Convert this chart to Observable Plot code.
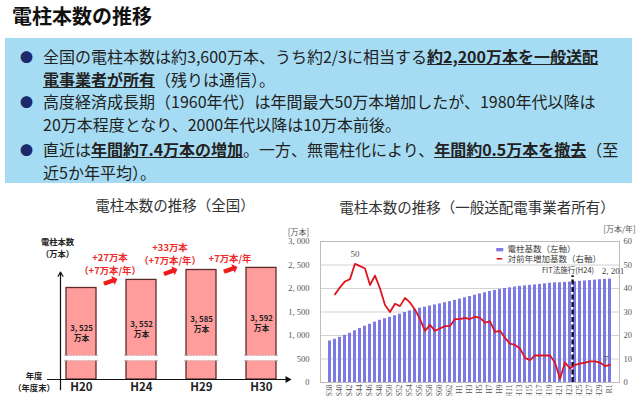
<!DOCTYPE html>
<html><head><meta charset="utf-8">
<script src="https://cdn.jsdelivr.net/npm/d3@7"></script>
<script src="https://cdn.jsdelivr.net/npm/@observablehq/plot@0.6"></script>
<style>
body{margin:0;background:#fff;font-family:"Noto Sans CJK JP",sans-serif;color:#222;}
#wrap{position:relative;width:640px;height:396px;overflow:hidden;background:#fff;}
.abs{position:absolute;}
#title{left:12px;top:3px;font-size:20px;font-weight:bold;color:#111;line-height:26px;}
#box{left:5px;top:38px;width:627px;height:145px;background:#a6dcf3;}
.item{position:absolute;left:43px;font-size:16px;line-height:23px;white-space:nowrap;color:#222;}
.dot{position:absolute;left:-23px;top:0;font-size:13px;color:#1b2a6e;}
.item b{text-decoration:underline;}
#t1{left:75px;top:196px;width:200px;text-align:center;font-size:14.5px;line-height:18px;color:#333;}
#t2{left:317px;top:198px;width:320px;text-align:center;font-size:14.5px;line-height:18px;color:#333;}
#c1{left:0;top:190px;}
#c2{left:280px;top:190px;}
</style></head>
<body>
<div id="wrap">
  <div id="title" class="abs">電柱本数の推移</div>
  <div id="box" class="abs"></div>
  <div class="item" style="top:45px"><span class="dot">●</span>全国の電柱本数は約3,600万本、うち約2/3に相当する<b>約2,200万本を一般送配<br>電事業者が所有</b>（残りは通信）。</div>
  <div class="item" style="top:90px"><span class="dot">●</span>高度経済成長期（1960年代）は年間最大50万本増加したが、1980年代以降は<br>20万本程度となり、2000年代以降は10万本前後。</div>
  <div class="item" style="top:138px"><span class="dot">●</span>直近は<b>年間約7.4万本の増加</b>。一方、無電柱化により、<b>年間約0.5万本を撤去</b>（至<br>近5か年平均）。</div>
  <div id="t1" class="abs">電柱本数の推移（全国）</div>
  <div id="t2" class="abs">電柱本数の推移（一般送配電事業者所有）</div>
  <div id="c1" class="abs"></div>
  <div id="c2" class="abs"></div>
</div>
<script>
// ---- Left chart: national totals ----
const natYears = ["H20", "H24", "H29", "H30"];
const natPoles = [3525, 3552, 3585, 3592];
const gainTo = ["H24", "H29", "H30"];
const gainText = ["+27万本\n（+7万本/年）", "+33万本\n（+7万本/年）", "+7万本/年"];

// ---- Right chart: utility-owned poles ----
const years = ["S38","S39","S40","S41","S42","S43","S44","S45","S46","S47","S48","S49","S50","S51","S52","S53","S54","S55","S56","S57","S58","S59","S60","S61","S62","S63",
  "H1","H2","H3","H4","H5","H6","H7","H8","H9","H10","H11","H12","H13","H14","H15","H16","H17","H18","H19","H20","H21","H22","H23","H24","H25","H26","H27","H28","H29","H30","R1"];
const poles = [883,920,961,1004,1048,1099,1148,1197,1238,1284,1324,1357,1387,1420,1453,1489,1523,1554,1581,1603,1628,1650,1673,1697,1721,1748,
  1775,1802,1829,1857,1885,1910,1936,1958,1980,1999,2015,2031,2046,2056,2066,2077,2089,2100,2112,2120,2122,2130,2136,2144,2152,2160,2169,2178,2187,2194,2201];
const increase = [null,37.5,40.5,43,44,50.5,49.5,48.5,41.5,45.5,40,33,30,33.5,32.5,36,34,31,27,22,24.5,22,23,24,24,27,
  27,27.5,27,28,27.5,25.5,26,21.5,22,19,16.5,16,14.5,10.5,9.5,11.5,11.5,11.5,11.5,8.5,1.5,8.5,6,7.5,8,8.5,9,9,8.5,7,7.5];
const tickYears = ["S38","S40","S42","S44","S46","S48","S50","S52","S54","S56","S58","S60","S62",
  "H1","H3","H5","H7","H9","H11","H13","H15","H17","H19","H21","H23","H25","H27","H29","R1"];
const leftTicks = [0,500,1000,1500,2000,2500,3000];

const fmtJ = v => d3.format(",")(v).replace(",", ", ");
const font = "'Noto Sans CJK JP', sans-serif";
const serif = "'Liberation Serif', 'Noto Sans CJK JP', serif";
const mid = {textAnchor: "middle", lineAnchor: "middle"};

const nat = natYears.map((year, i) => ({year, value: natPoles[i]}));
const gains = gainTo.map((year, i) => ({year, value: natPoles[natYears.indexOf(year)], text: gainText[i]}));
const breakAt = 3292;

const left = Plot.plot({
  width: 290, height: 206,
  marginLeft: 47, marginRight: 3, marginTop: 0, marginBottom: 17,
  style: {background: "transparent", fontFamily: font, overflow: "visible"},
  x: {type: "band", domain: natYears, range: [64, 277], paddingInner: 0.508, paddingOuter: 0},
  y: {domain: [3220, 3600], range: [189, 75]},
  marks: [
    Plot.barY(nat, {x: "year", y1: 3220, y2: "value", fill: "#ff9d9d", stroke: "#5e2b2b", strokeWidth: 1.3}),
    Plot.tickY(nat, {x: "year", y: breakAt, stroke: "white", strokeWidth: 5, insetLeft: -2, insetRight: -2}),
    Plot.tickY(nat, {x: "year", y: breakAt, dy: -2.5, stroke: "#aaa", strokeWidth: 0.8, strokeDasharray: "1.5,1.5", insetLeft: -2, insetRight: -2}),
    Plot.tickY(nat, {x: "year", y: breakAt, dy: 2.5, stroke: "#aaa", strokeWidth: 0.8, strokeDasharray: "1.5,1.5", insetLeft: -2, insetRight: -2}),
    Plot.text(nat, {x: "year", y: d => (d.value + breakAt) / 2, dy: 9.5, text: d => fmtJ(d.value) + "\n万本",
      fontSize: 7.8, fontWeight: "bold", fill: "#222", lineHeight: 1.32}),
    Plot.ruleY([3220], {stroke: "#111", strokeWidth: 1.2}),
    Plot.dot([3220], {y: d => d, frameAnchor: "right", symbol: "triangle", rotate: 90, r: 2.6, fill: "#111", stroke: null}),
    Plot.arrow([natYears[0]], {x1: d => d, x2: d => d, y1: 3186, y2: 3578, dx: -21, stroke: "#111", strokeWidth: 1.2, headLength: 6}),
    Plot.text(gains, {x: "year", y: "value", text: "text", dx: -31.5, dy: -6, lineAnchor: "bottom",
      fontSize: 9.4, fontWeight: "bold", fill: "#ee2a2a", lineHeight: 1.42}),
    Plot.text(gains, {x: "year", y: "value", text: () => "➡", dx: -31, dy: 1.5, rotate: -20,
      fontSize: 19, fill: "#ee1c1c", fontFamily: "'DejaVu Sans'"}),
    Plot.text(["電柱本数\n（万本）"], {frameAnchor: "top-left", ...mid, dx: 10, dy: 56.5, text: d => d,
      fontSize: 8.3, fontWeight: "bold", fill: "#222", lineHeight: 1.4}),
    Plot.text(["年度\n（年度末）"], {frameAnchor: "top-left", ...mid, dx: -13.5, dy: 191, text: d => d,
      fontSize: 8.3, fontWeight: "bold", fill: "#222", lineHeight: 1.45}),
    Plot.axisX({tickSize: 0, tickPadding: 3, fontSize: 11.5, fontWeight: "bold", fill: "#222", label: null}),
    Plot.axisY({ticks: [], label: null})
  ]
});
document.getElementById("c1").append(left);

const rows = years.map((year, i) => ({year, poles: poles[i], inc: increase[i]}));

const right = Plot.plot({
  width: 360, height: 206,
  marginLeft: 40, marginRight: 21, marginTop: 51, marginBottom: 14,
  style: {background: "transparent", fontFamily: font, overflow: "visible"},
  x: {type: "band", domain: years, paddingInner: 0.45, paddingOuter: 0.5},
  y: {domain: [0, 3000]},
  marks: [
    Plot.ruleY(leftTicks, {stroke: "#d2d2d2", strokeWidth: 1}),
    Plot.frame({stroke: "#bdbdbd"}),
    Plot.barY(rows, {x: "year", y: "poles", fill: "#7b7be3"}),
    Plot.ruleX(["H23"], {x: d => d, dx: 2.6, y1: 0, y2: 2270, stroke: "#111", strokeWidth: 2.4, strokeDasharray: "5,2.5"}),
    Plot.line(rows, {x: "year", y: d => d.inc == null ? NaN : d.inc * 50, stroke: "#e0141e", strokeWidth: 1.8}),
    Plot.text([{year: "S43", v: 50.5}], {x: "year", y: d => d.v * 50, text: () => "50", dy: -10, fontSize: 9, fill: "#555", fontFamily: serif}),
    Plot.text([{year: "R1", v: 2201}], {x: "year", y: "v", text: d => fmtJ(d.v), dx: 3, dy: -8, fontSize: 9, fill: "#444", fontFamily: serif}),
    Plot.text([{year: "R1", v: 7.5}], {x: "year", y: d => d.v * 50, text: () => "7", dx: -4, dy: -6, fontSize: 9, fill: "#555", fontFamily: serif}),
    Plot.text(["H23"], {x: d => d, y: 2300, text: () => "FIT法施行(H24)", dx: -2, dy: -4, fontSize: 7.5, fill: "#333"}),
    Plot.text(["▬"], {frameAnchor: "top-left", ...mid, dx: 179, dy: 7.5, text: d => d, fill: "#7b7be3", fontSize: 9, fontFamily: "'DejaVu Sans'"}),
    Plot.text(["電柱基数（左軸）"], {frameAnchor: "top-left", lineAnchor: "middle", dx: 187, dy: 7.5, text: d => d, textAnchor: "start", fontSize: 8.5, fill: "#444"}),
    Plot.text(["━"], {frameAnchor: "top-left", ...mid, dx: 179, dy: 18, text: d => d, fill: "#e0141e", fontSize: 9, fontFamily: "'DejaVu Sans'"}),
    Plot.text(["対前年増加基数（右軸）"], {frameAnchor: "top-left", lineAnchor: "middle", dx: 187, dy: 18, text: d => d, textAnchor: "start", fontSize: 8.5, fill: "#444"}),
    Plot.text(["[万本]"], {frameAnchor: "top-left", ...mid, dx: -22, dy: -9, text: d => d, fontSize: 8, fill: "#555"}),
    Plot.text(["[万本/年]"], {frameAnchor: "top-right", ...mid, dx: 0, dy: -12, text: d => d, fontSize: 8, fill: "#555"}),
    Plot.axisY({ticks: leftTicks, tickSize: 0, tickPadding: 11, tickFormat: fmtJ, fontSize: 8.5, fill: "#555", fontFamily: serif, label: null}),
    Plot.axisY({anchor: "right", ticks: leftTicks, tickSize: 0, tickPadding: 4, tickFormat: d => d / 50, fontSize: 8.5, fill: "#555", fontFamily: serif, label: null}),
    Plot.axisX({ticks: tickYears, tickRotate: -90, tickSize: 0, tickPadding: 2, fontSize: 7.5, fill: "#555", fontFamily: serif, label: null})
  ]
});
document.getElementById("c2").append(right);
</script>
</body></html>
